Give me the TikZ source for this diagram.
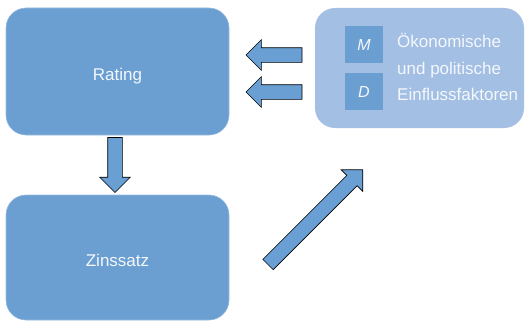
\documentclass[tikz,border=0pt]{standalone}
\usepackage{fontspec}
\setmainfont{Liberation Sans}
\usetikzlibrary{positioning,shapes.arrows}
\definecolor{boxblue}{HTML}{6B9FD1}
\definecolor{paleblue}{HTML}{A3BFE4}
\definecolor{arrowblue}{HTML}{6A9FD3}
\definecolor{labelwhite}{HTML}{F4F7FC}
\tikzset{
    bigbox/.style={rounded corners=20pt,fill=boxblue,draw=boxblue!70!white,line width=0.6pt,
        minimum width=223pt,text=labelwhite,font=\fontsize{17}{20}\selectfont,
        text height=17pt,text depth=0pt},
    factorbox/.style={rounded corners=20pt,fill=paleblue,minimum width=209pt,minimum height=120pt},
    letterbox/.style={fill=boxblue,minimum width=38pt,minimum height=37pt,inner sep=0pt,
        text=labelwhite,font=\fontsize{16}{18}\selectfont\itshape},
    factortext/.style={anchor=base west,inner sep=0pt,text=labelwhite,font=\fontsize{17}{20}\selectfont},
    blockarr/.style={single arrow,draw=black,fill=arrowblue,line width=0.6pt,inner xsep=0pt,
        inner ysep=7pt,minimum width=0pt,single arrow head extend=8pt,anchor=tail,outer sep=0pt},
}

\begin{document}
\begin{tikzpicture}[x=1pt,y=-1pt]
    \useasboundingbox (0,0) rectangle (526,321);
    % the two main boxes
    \node[bigbox,minimum height=127pt] (rating) at (117.5,71.5) {Rating};
    \node[bigbox,minimum height=125pt] (zins) at (117.5,257.5) {Zinssatz};
    % influence factors
    \node[factorbox] (factors) at (419.5,68) {};
    \node[letterbox] (sqM) at (364,44.5) {M};
    \node[letterbox,below=10pt of sqM] (sqD) {D};
    \node[factortext] (lineA) at (397,48) {Ökonomische};
    \node[factortext] (lineB) at (397,74) {und politische};
    \node[factortext] (lineC) at (397,100) {Einflussfaktoren};
    % block arrows, placed at their tails
    \node[blockarr,minimum height=56pt,rotate=180] (arrM) at (302,55) {};
    \node[blockarr,minimum height=56pt,rotate=180] (arrD) at (302,92) {};
    \node[blockarr,minimum height=55pt,rotate=-90] (arrdown) at (115,137.5) {};
    \node[blockarr,minimum height=134pt,rotate=45] (arrdiag) at (268,264.5) {};
\end{tikzpicture}
\end{document}
